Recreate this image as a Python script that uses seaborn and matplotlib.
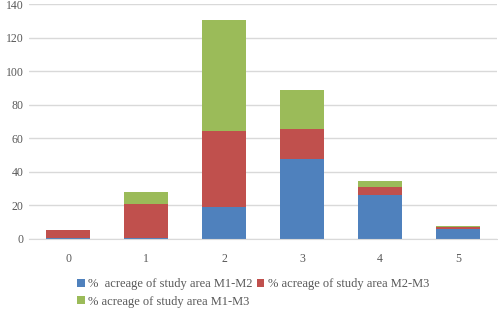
import matplotlib
matplotlib.use("Agg")
import matplotlib.pyplot as plt
import seaborn as sns
import pandas as pd
import numpy as np
from matplotlib.patches import Patch

categories = ["0", "1", "2", "3", "4", "5"]
m1_m2 = [0.5, 0.5, 18.8, 47.5, 26.0, 5.6]
m2_m3 = [4.9, 20.3, 45.7, 18.3, 5.0, 1.6]
m1_m3 = [0.0, 6.8, 65.9, 23.1, 3.7, 0.6]
series_names = ["%  acreage of study area M1-M2", "% acreage of study area M2-M3", "% acreage of study area M1-M3"]
colors = ["#4F81BD", "#C0504D", "#9BBB59"]
yticks = [0, 20, 40, 60, 80, 100, 120, 140]

sns.set_style("white")
plt.rcParams["font.family"] = ["Liberation Serif", "DejaVu Serif"]

fig = plt.figure(figsize=(4.98, 3.12), dpi=100)
ax = fig.add_axes([29/498, 1-238.7/312, 468/498, (238.7-4.3)/312])

series = [m1_m2, m2_m3, m1_m3]
bottom = np.zeros(len(categories))
for name, vals, col in zip(series_names, series, colors):
    df = pd.DataFrame({"cat": categories, "val": vals})
    sns.barplot(data=df, x="cat", y="val", order=categories, color=col,
                bottom=bottom, width=0.565, ax=ax, saturation=1, zorder=3,
                linewidth=0, edgecolor="none")
    bottom = bottom + np.array(vals)

ax.set_ylim(0, 140)
ax.set_xlim(-0.5, 5.5)
ax.set_yticks(yticks)
ax.set_yticklabels([str(t) for t in yticks])
ax.yaxis.grid(True, color="#d9d9d9", linewidth=1, zorder=0)
ax.set_axisbelow(True)
for s in ["top", "right", "left"]:
    ax.spines[s].set_visible(False)
ax.spines["bottom"].set_color("#d9d9d9")
ax.spines["bottom"].set_zorder(4)
ax.tick_params(axis="both", length=0, labelsize=8.5, colors="#595959")
ax.tick_params(axis="x", pad=10)
ax.tick_params(axis="y", pad=4)
ax.set_xlabel("")
ax.set_ylabel("")

handles = [Patch(facecolor=c, edgecolor="none") for c in colors]
order = [0, 2, 1]
leg = fig.legend([handles[i] for i in order], [series_names[i] for i in order],
                 loc="upper left", bbox_to_anchor=(72/498, 1-273/312),
                 ncol=2, frameon=False, fontsize=9, handlelength=0.6, handleheight=0.6,
                 handletextpad=0.3, columnspacing=0.3, labelspacing=0.45, borderaxespad=0)
for t in leg.get_texts():
    t.set_color("#595959")

fig.savefig("out.png", dpi=100)
